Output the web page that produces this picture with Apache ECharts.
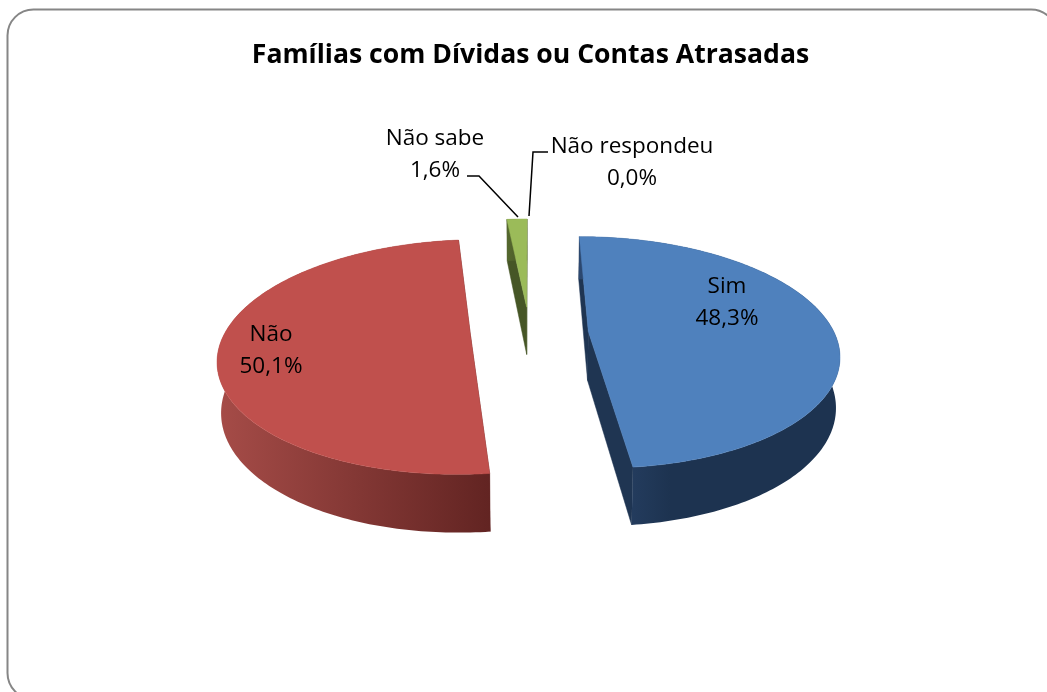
<!DOCTYPE html>
<html><head><meta charset="utf-8">
<style>html,body{margin:0;padding:0;background:#fff}#c{width:1047px;height:692px}</style>
<script src="https://cdn.jsdelivr.net/npm/echarts@6/dist/echarts.min.js"></script>
</head><body><div id="c"></div>
<script>
const categories = ['Sim', 'Não', 'Não sabe', 'Não respondeu'];
const values = [48.3, 50.1, 1.6, 0.0];
const titleText = 'Famílias com Dívidas ou Contas Atrasadas';

const topColors = ['#4F81BD', '#C0504D', '#9BBB59', '#9BBB59'];
const wallFrom = ['#2C4870', '#A64C48', '#55682E', '#55682E'];
const wallTo = ['#1D3350', '#622422', '#465626', '#465626'];
const faceColors = ['#1F3552', '#622422', '#465626', '#465626'];
const labelPlaces = [
  {x: 727, y: 303}, {x: 271, y: 351}, {x: 435, y: 155}, {x: 632, y: 163}
];
const leaderBends = [null, null, [[467, 176], [479, 176]], [[548, 152], [533, 152]]];
const leaderEnds = [null, null, [518, 217], [529, 216]];

// projection of the tilted disc
const AX = 529.5, AY = 333, A = 246, B = 112.5, P = 0.18, DEPTH = 49, EXPLODE = 0.24, START = 0;
function project(X, Y, low) {
  const w = 1 + P * Y;
  const k = low ? 0.987 : 1;
  return [AX + A * X * k / w, AY + (-B * Y * k + (low ? DEPTH : 0)) / w];
}
const total = values.reduce((a, b) => a + b, 0);
function sliceInfo(i) {
  let before = 0;
  for (let j = 0; j < i; j++) before += values[j];
  const a0 = START + before / total * 2 * Math.PI;
  const a1 = a0 + values[i] / total * 2 * Math.PI;
  const mid = (a0 + a1) / 2;
  return {a0, a1, ex: EXPLODE * Math.sin(mid), ey: EXPLODE * Math.cos(mid)};
}
function rim(s, a, low) {
  return project(s.ex + Math.sin(a), s.ey + Math.cos(a), low);
}
function renderItem(params, api) {
  const i = params.dataIndex;
  const s = sliceInfo(i);
  const children = [];
  if (values[i] > 0) {
    const steps = Math.max(6, Math.round((s.a1 - s.a0) * 60));
    const hi = [], lo = [];
    for (let k = 0; k <= steps; k++) {
      const a = s.a0 + (s.a1 - s.a0) * k / steps;
      hi.push(rim(s, a, false));
      lo.push(rim(s, a, true));
    }
    const apexHi = project(s.ex, s.ey, false), apexLo = project(s.ex, s.ey, true);
    [[hi[0], lo[0]], [hi[steps], lo[steps]]].forEach(function (e) {
      children.push({type: 'polygon', shape: {points: [e[0], apexHi, apexLo, e[1]]},
        style: {fill: faceColors[i], stroke: faceColors[i], lineWidth: 0.5}});
    });
    const wall = hi.concat(lo.slice().reverse());
    children.push({type: 'polygon', shape: {points: wall},
      style: {fill: new echarts.graphic.LinearGradient(0, 0, 1, 0, [
        {offset: 0, color: wallFrom[i]},
        {offset: i === 0 ? 0.35 : 1, color: wallTo[i]},
        {offset: 1, color: wallTo[i]}
      ])}});
    children.push({type: 'polygon', shape: {points: [apexHi].concat(hi)},
      style: {fill: topColors[i], stroke: topColors[i], lineWidth: 0.5}});
  }
  if (leaderBends[i]) {
    children.push({type: 'polyline',
      shape: {points: leaderBends[i].concat([leaderEnds[i]])},
      style: {fill: 'none', stroke: '#000', lineWidth: 1.5}});
  }
  const pct = values[i].toFixed(1).replace('.', ',') + '%';
  children.push({type: 'text', style: {
    x: labelPlaces[i].x, y: labelPlaces[i].y,
    text: categories[i] + '\n' + pct,
    textAlign: 'center', textVerticalAlign: 'middle',
    font: '22.5px "Open Sans"', lineHeight: 32, fill: '#000'}, z2: 10});
  return {type: 'group', children: children};
}
const chart = echarts.init(document.getElementById('c'), null, {renderer: 'canvas'});
chart.setOption({
  animation: false,
  backgroundColor: '#fff',
  title: {text: titleText, left: 525.5, top: 37, textAlign: 'center',
    textStyle: {fontFamily: 'Open Sans', fontWeight: 'bold', fontSize: 26.6, color: '#000'}},
  graphic: [{type: 'rect', z: -1, silent: true,
    shape: {x: 7.5, y: 9.5, width: 1049.5, height: 689.5, r: 26},
    style: {fill: '#fff', stroke: '#868686', lineWidth: 2}}],
  series: [{type: 'custom', coordinateSystem: 'none', renderItem: renderItem, clip: false,
    data: categories.map((c, i) => ({name: c, value: values[i]}))}]
});
</script></body></html>
